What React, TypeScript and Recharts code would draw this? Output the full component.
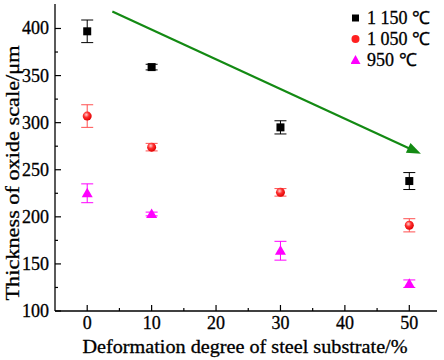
import React from "react";
import {
  ScatterChart,
  Scatter,
  XAxis,
  YAxis,
  ErrorBar,
  ReferenceLine,
} from "recharts";

const deformation = [0, 10, 30, 50];
const t1150 = [397, 359, 295, 238];
const e1150 = [12, 3, 7, 9];
const t1050 = [307, 274, 226, 191];
const e1050 = [12, 4, 4, 7];
const t950 = [225, 203, 164, 129];
const e950 = [10, 2, 10, 4];

const seriesNames = ["1 150 ℃", "1 050 ℃", "950 ℃"];
const xTicks = [0, 5, 10, 15, 20, 25, 30, 35, 40, 45, 50];
const xMajor = [0, 10, 20, 30, 40, 50];
const yTicks = [100, 125, 150, 175, 200, 225, 250, 275, 300, 325, 350, 375, 400];
const yMajor = [100, 150, 200, 250, 300, 350, 400];
const trendStart = { x: 3.9, y: 418 };
const trendEnd = { x: 51.8, y: 267 };

const build = (vals: number[], errs: number[]) =>
  deformation.map((d, i) => ({ x: d, y: vals[i], err: errs[i] }));

const d1150 = build(t1150, e1150);
const d1050 = build(t1050, e1050);
const d950 = build(t950, e950);

const FONT = "Liberation Serif, Times New Roman, serif";
const TS = { fontFamily: FONT };
const TXT = { fill: "#000", stroke: "#000", strokeWidth: 0.3 };

const Square = (p: any) => (
  <rect x={p.cx - 4} y={p.cy - 4} width={8} height={8} fill="#000" />
);
const Ball = (p: any) => (
  <g>
    <defs>
      <radialGradient id="ballg" cx="0.4" cy="0.35" r="0.65">
        <stop offset="0%" stopColor="#ffd0d0" />
        <stop offset="45%" stopColor="#ff3030" />
        <stop offset="100%" stopColor="#e00000" />
      </radialGradient>
    </defs>
    <circle cx={p.cx} cy={p.cy} r={4.5} fill="url(#ballg)" />
  </g>
);
const Tri = (p: any) => (
  <polygon
    points={`${p.cx},${p.cy - 5.5} ${p.cx + 5.5},${p.cy + 4} ${p.cx - 5.5},${p.cy + 4}`}
    fill="#ff00ff"
  />
);

const YTick = (p: any) => {
  const v = p.payload.value;
  const major = yMajor.includes(v);
  return (
    <g>
      <line x1={p.x} x2={p.x + (major ? 6 : 3)} y1={p.y} y2={p.y} stroke="#000" strokeWidth={1.2} />
      {major && (
        <text x={p.x - 6} y={p.y + 6} textAnchor="end" fontSize={18} style={TS} {...TXT}>
          {v}
        </text>
      )}
    </g>
  );
};

const XTick = (p: any) => {
  const v = p.payload.value;
  const major = xMajor.includes(v);
  return (
    <g>
      <line x1={p.x} x2={p.x} y1={p.y} y2={p.y - (major ? 6 : 3)} stroke="#000" strokeWidth={1.2} />
      {major && (
        <text x={p.x} y={p.y + 18} textAnchor="middle" fontSize={18} style={TS} {...TXT}>
          {v}
        </text>
      )}
    </g>
  );
};

const Arrow = (p: any) => {
  const { x1, y1, x2, y2 } = p;
  const dx = x2 - x1;
  const dy = y2 - y1;
  const len = Math.sqrt(dx * dx + dy * dy);
  const ux = dx / len;
  const uy = dy / len;
  const hl = 14;
  const hw = 5.5;
  const bx = x2 - ux * hl;
  const by = y2 - uy * hl;
  return (
    <g>
      <line x1={x1} y1={y1} x2={bx + ux * 2} y2={by + uy * 2} stroke="#138a13" strokeWidth={2.2} />
      <polygon
        points={`${x2},${y2} ${bx - uy * hw},${by + ux * hw} ${bx + uy * hw},${by - ux * hw}`}
        fill="#138a13"
      />
    </g>
  );
};

const LegendBox = () => {
  const rows = [
    { name: seriesNames[0], kind: "sq" },
    { name: seriesNames[1], kind: "ball" },
    { name: seriesNames[2], kind: "tri" },
  ];
  return (
    <svg width={90} height={70} style={{ position: "absolute", left: 351, top: 6 }}>
      {rows.map((r, i) => {
        const cy = 12 + i * 21;
        return (
          <g key={i}>
            {r.kind === "sq" && <rect x={1} y={cy - 3.5} width={7} height={7} fill="#000" />}
            {r.kind === "ball" && <circle cx={4.5} cy={cy} r={4} fill="#ff2020" />}
            {r.kind === "tri" && (
              <polygon points={`4.5,${cy - 5} 9.5,${cy + 4} -0.5,${cy + 4}`} fill="#ff00ff" />
            )}
            <text x={16} y={cy + 6} fontSize={18} style={TS} {...TXT}>
              {r.name}
            </text>
          </g>
        );
      })}
    </svg>
  );
};

export default function App() {
  return (
    <div style={{ position: "absolute", left: 0, top: 0, width: 444, height: 360, background: "#fff" }}>
      <ScatterChart width={444} height={360} margin={{ top: 4, right: 7, left: 0, bottom: 0 }}>
        <XAxis
          type="number"
          dataKey="x"
          domain={[-5, 54.3]}
          ticks={xTicks}
          interval={0}
          allowDataOverflow
          height={49}
          tickSize={0}
          tickMargin={0}
          tickLine={false}
          tick={<XTick />}
          axisLine={{ stroke: "#000", strokeWidth: 1.3 }}
          label={{
            content: () => (
              <text
                x={245}
                y={353}
                textAnchor="middle"
                fontSize={18}
                style={TS}
                {...TXT}
                textLength={325}
                lengthAdjust="spacingAndGlyphs"
              >
                Deformation degree of steel substrate/%
              </text>
            ),
          }}
        />
        <XAxis
          xAxisId="top"
          orientation="top"
          type="number"
          dataKey="x"
          domain={[-5, 54.3]}
          height={0}
          tick={false}
          tickLine={false}
          axisLine={{ stroke: "#000", strokeWidth: 1.3 }}
        />
        <YAxis
          type="number"
          dataKey="y"
          domain={[100, 426]}
          ticks={yTicks}
          interval={0}
          allowDataOverflow
          width={55}
          tickSize={0}
          tickMargin={0}
          tickLine={false}
          tick={<YTick />}
          axisLine={{ stroke: "#000", strokeWidth: 1.3 }}
          label={{
            content: () => (
              <text
                transform="translate(19,173) rotate(-90)"
                textAnchor="middle"
                fontSize={18}
                style={TS}
                {...TXT}
                textLength={255}
                lengthAdjust="spacingAndGlyphs"
              >
                Thickness of oxide scale/μm
              </text>
            ),
          }}
        />
        <YAxis
          yAxisId="right"
          orientation="right"
          type="number"
          dataKey="y"
          domain={[100, 426]}
          width={0}
          tick={false}
          tickLine={false}
          axisLine={{ stroke: "#000", strokeWidth: 1.3 }}
        />
        <ReferenceLine
          segment={[trendStart, trendEnd]}
          shape={(p: any) => <Arrow {...p} />}
          ifOverflow="visible"
        />
        <Scatter name={seriesNames[0]} data={d1150} shape={<Square />} isAnimationActive={false}>
          <ErrorBar dataKey="err" direction="y" width={6} stroke="#000" strokeWidth={1} />
        </Scatter>
        <Scatter name={seriesNames[1]} data={d1050} shape={<Ball />} isAnimationActive={false}>
          <ErrorBar dataKey="err" direction="y" width={6} stroke="#ff5050" strokeWidth={1} />
        </Scatter>
        <Scatter name={seriesNames[2]} data={d950} shape={<Tri />} isAnimationActive={false}>
          <ErrorBar dataKey="err" direction="y" width={6} stroke="#ff00ff" strokeWidth={1} />
        </Scatter>
      </ScatterChart>
      <LegendBox />
    </div>
  );
}
